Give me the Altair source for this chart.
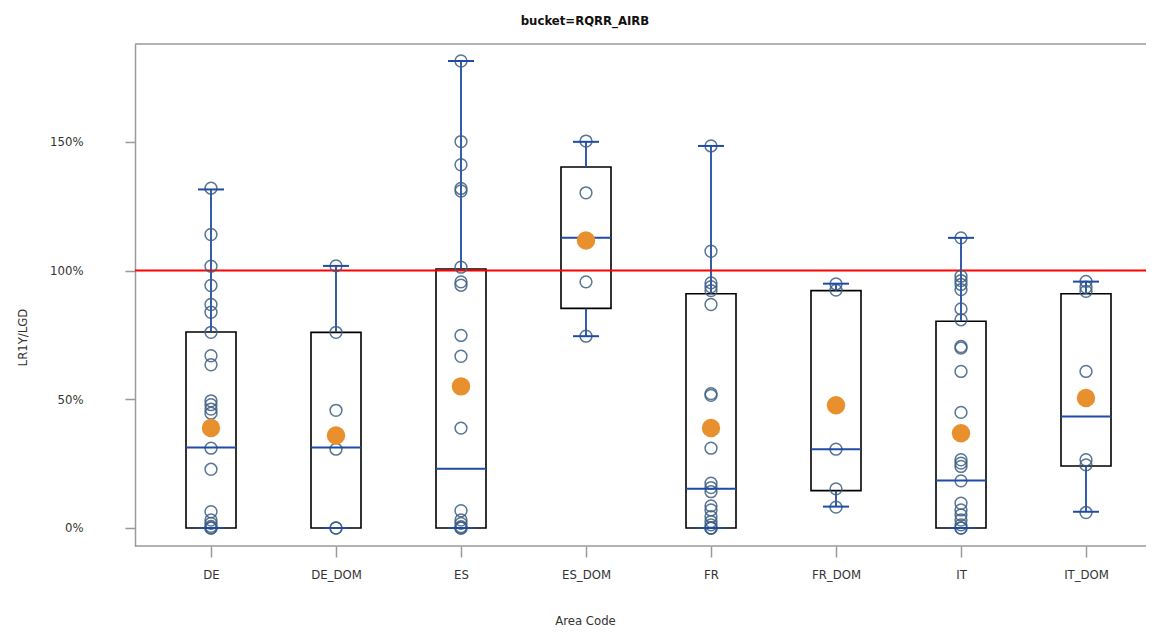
import altair as alt
import pandas as pd

# ---------------- data (values in percent) ----------------
cats = ["DE", "DE_DOM", "ES", "ES_DOM", "FR", "FR_DOM", "IT", "IT_DOM"]

de_pts = [132, 114, 101.7, 94.2, 86.8, 83.8, 76, 66.9, 63.4, 49.4, 47.9, 46.2, 44.6, 31, 22.8, 6.3, 3.1, 1.8, 0.6, 0, 0]
de_dom_pts = [101.8, 76, 45.7, 30.6, 0, 0]
es_pts = [181.4, 150.1, 141.1, 131.9, 130.9, 101.3, 95.6, 94.3, 74.8, 66.7, 38.8, 6.7, 3.1, 1.8, 0.5, 0, 0]
es_dom_pts = [150.3, 130.2, 95.6, 74.5]
fr_pts = [148.4, 107.5, 95.2, 93.7, 92.2, 86.8, 52.2, 51.5, 31, 17.4, 15.7, 14.1, 8.6, 7, 4.4, 2.5, 1.2, 0, 0, 0]
fr_dom_pts = [94.8, 92.4, 30.6, 15.2, 8.1]
it_pts = [112.7, 97.8, 96.1, 94.6, 92.6, 85.1, 80.9, 70.5, 69.9, 60.8, 44.9, 26.5, 25.2, 23.9, 18.3, 9.6, 7, 5.1, 3.1, 1.2, 0, 0]
it_dom_pts = [95.8, 93.5, 91.9, 60.8, 26.5, 24.5, 6]

q1 = [0, 0, 0, 85.3, 0, 14.5, 0, 24.1]
median = [31.3, 31.3, 23, 112.7, 15.2, 30.6, 18.4, 43.3]
q3 = [76.1, 76, 100.6, 140.2, 91, 92.2, 80.3, 91]
whisker_lo = [0, 0, 0, 74.5, 0, 8.3, 0, 6.3]
whisker_hi = [131.5, 101.8, 181.4, 150, 148.4, 94.9, 112.7, 95.7]
mean = [38.8, 35.9, 55, 111.7, 38.8, 47.7, 36.8, 50.5]

ref_value = [100]
y_ticks = [0, 50, 100, 150]

title_text = ["bucket=RQRR_AIRB"]
x_title = "Area Code"
y_title = "LR1Y/LGD"

# ---------------- tables ----------------
groups = [de_pts, de_dom_pts, es_pts, es_dom_pts, fr_pts, fr_dom_pts, it_pts, it_dom_pts]
pts = pd.DataFrame(
    [{"area": c, "v": v} for c, g in zip(cats, groups) for v in g]
)
summ = pd.DataFrame({
    "area": cats, "q1": q1, "median": median, "q3": q3,
    "lo": whisker_lo, "hi": whisker_hi, "mean": mean,
})
ref = pd.DataFrame({"v": ref_value})
ttl = pd.DataFrame({"t": title_text})

W, H = 1011, 502
FONT = "'Liberation Sans Narrow', 'DejaVu Sans Condensed', 'Liberation Sans', sans-serif"
GRAY = "#9a9a9a"
BLUE = "#1f4ba5"

xs = alt.Scale(type="point", domain=cats, range=[76, 951], padding=0)
ys = alt.Scale(domain=[-7, 188], nice=False, zero=False)

x_enc = alt.X(
    "area:N", scale=xs, sort=cats, title=x_title,
    axis=alt.Axis(
        labelAngle=0, labelFont=FONT, labelFontSize=13, labelColor="#333",
        labelPadding=11, tickSize=11, tickColor=GRAY, tickWidth=1.5,
        domain=False,
        titleFont=FONT, titleFontSize=13, titleFontWeight="normal", titleColor="#333",
        titleX=450, titleY=74, titleBaseline="middle", titleAlign="center",
    ),
)
y_axis = alt.Axis(
    values=y_ticks, labelExpr="datum.value + '%'", grid=False,
    labelFont=FONT, labelFontSize=13, labelColor="#333", labelPadding=42,
    tickSize=10, tickColor=GRAY, tickWidth=1.5, domainColor=GRAY, domainWidth=1.5,
    titleFont=FONT, titleFontSize=13, titleFontWeight="normal", titleColor="#333",
    titleX=-113, titleY=293, titleBaseline="middle", titleAngle=270,
)

base = alt.Chart(summ)
xp = alt.X("area:N", scale=xs, sort=cats)

boxes = base.mark_bar(size=50, fill="white", fillOpacity=0, stroke="black", strokeWidth=1.6).encode(
    x=x_enc,
    y=alt.Y("q1:Q", scale=ys, axis=y_axis, title=y_title),
    y2="q3:Q",
)
whisk_lo = base.mark_rule(color=BLUE, strokeWidth=1.8).encode(
    x=xp, y=alt.Y("lo:Q", scale=ys), y2="q1:Q"
)
whisk_hi = base.mark_rule(color=BLUE, strokeWidth=1.8).encode(
    x=xp, y=alt.Y("q3:Q", scale=ys), y2="hi:Q"
)
cap_lo = base.mark_tick(color=BLUE, size=26, thickness=2, opacity=1).encode(
    x=xp, y=alt.Y("lo:Q", scale=ys)
)
cap_hi = base.mark_tick(color=BLUE, size=26, thickness=2, opacity=1).encode(
    x=xp, y=alt.Y("hi:Q", scale=ys)
)
med = base.mark_tick(color=BLUE, size=50, thickness=2, opacity=1).encode(
    x=xp, y=alt.Y("median:Q", scale=ys)
)
refline = alt.Chart(ref).mark_rule(color="#ff0000", strokeWidth=2).encode(
    y=alt.Y("v:Q", scale=ys), x=alt.value(0), x2=alt.value(W)
)
dots = alt.Chart(pts).mark_point(
    shape="circle", filled=False, size=140, stroke="#3d5f82", strokeWidth=1.5, opacity=0.85
).encode(
    x=xp, y=alt.Y("v:Q", scale=ys)
)
means = base.mark_circle(size=340, color="#e8902e", opacity=1).encode(
    x=xp, y=alt.Y("mean:Q", scale=ys)
)
topline = alt.Chart(ref).mark_rule(color=GRAY, strokeWidth=1.5).encode(
    y=alt.value(0), x=alt.value(0), x2=alt.value(W)
)
botline = alt.Chart(ref).mark_rule(color=GRAY, strokeWidth=1.5).encode(
    y=alt.value(H), x=alt.value(0), x2=alt.value(W)
)
title = alt.Chart(ttl).mark_text(
    font=FONT, fontSize=13, fontWeight="bold", color="#111", baseline="middle", align="center"
).encode(text="t:N", x=alt.value(450), y=alt.value(-23))

chart = alt.layer(
    boxes, whisk_lo, whisk_hi, refline, dots, cap_lo, cap_hi, med, means, topline, botline, title
).properties(
    width=W, height=H,
    autosize="none",
    padding={"left": 127, "top": 36, "right": 0, "bottom": 86},
).configure_view(stroke="transparent")

chart.save("out.html", embed_options={"renderer": "svg", "actions": False})
